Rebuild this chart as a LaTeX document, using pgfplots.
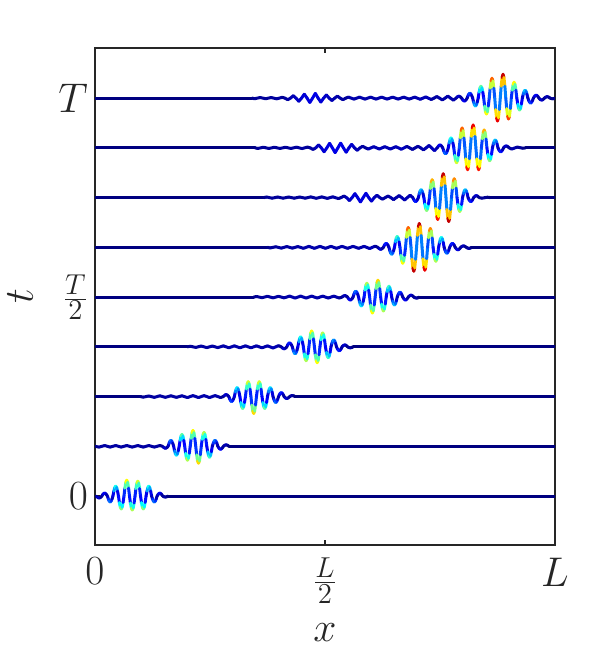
\documentclass[border=0pt]{standalone}
\usepackage{pgfplots}
\pgfplotsset{compat=1.18}

\begin{document}
\begin{tikzpicture}
\path[use as bounding box] (-47.5pt,-55.5pt) rectangle (259pt,272.5pt);
\begin{axis}[
    at={(0,0)}, anchor=south west,
    scale only axis,
    width=230pt, height=248.5pt,
    xmin=0, xmax=1, ymin=-0.123, ymax=1.126,
    xtick={0,0.5,1},
    xticklabels={$0$,{\fontsize{19}{22}\selectfont$\frac{L}{2}$},$L$},
    ytick={0,0.5,1},
    yticklabels={$0$,{\fontsize{19}{22}\selectfont$\frac{T}{2}$},$T$},
    tick align=inside,
    major tick length=2.5pt,
    axis line style={black!85, line width=0.6pt},
    every tick/.style={black!85, line width=0.6pt},
    tick label style={font=\fontsize{20}{24}\selectfont, text=black!85},
    xticklabel style={yshift=-3pt},
    xlabel={$x$}, ylabel={$t$},
    label style={font=\fontsize{20}{24}\selectfont, text=black!85},
    xlabel style={at={(axis description cs:0.5,-0.195)}, anchor=base},
    ylabel style={at={(axis description cs:-0.135,0.5)}, anchor=base},
    colormap/jet,
    point meta min=0, point meta max=0.06,
    wave/.style={mesh, line width=1.5pt, line cap=round, no markers, point meta={abs(\thisrow{u})}},
]

% t = 0
\addplot[wave] table[row sep=\\, x=x, y expr=\thisrow{u}+0] {
x u\\
0 0\\
0.003 0\\ 0.005 -0.0025\\ 0.007 -0.0043\\ 0.009 -0.005\\ 0.011 -0.0043\\ 0.013 -0.0025\\
0.015 0\\ 0.017 0.0038\\ 0.019 0.0065\\ 0.021 0.0075\\ 0.023 0.0065\\ 0.025 0.0038\\
0.027 0\\ 0.029 -0.0075\\ 0.031 -0.013\\ 0.033 -0.015\\ 0.035 -0.013\\ 0.037 -0.0075\\
0.039 0\\ 0.041 0.0125\\ 0.043 0.0217\\ 0.045 0.025\\ 0.047 0.0217\\ 0.049 0.0125\\
0.051 0\\ 0.053 -0.0163\\ 0.055 -0.0281\\ 0.057 -0.0325\\ 0.059 -0.0281\\ 0.061 -0.0163\\
0.063 0\\ 0.065 0.02\\ 0.067 0.0346\\ 0.069 0.04\\ 0.071 0.0346\\ 0.073 0.02\\
0.075 0\\ 0.077 -0.0175\\ 0.079 -0.0303\\ 0.081 -0.035\\ 0.083 -0.0303\\ 0.085 -0.0175\\
0.087 0\\ 0.089 0.0188\\ 0.091 0.0325\\ 0.093 0.0375\\ 0.095 0.0325\\ 0.097 0.0188\\
0.099 0\\ 0.101 -0.0163\\ 0.103 -0.0281\\ 0.105 -0.0325\\ 0.107 -0.0281\\ 0.109 -0.0163\\
0.111 0\\ 0.113 0.0125\\ 0.115 0.0217\\ 0.117 0.025\\ 0.119 0.0217\\ 0.121 0.0125\\
0.123 0\\ 0.125 -0.0075\\ 0.127 -0.013\\ 0.129 -0.015\\ 0.131 -0.013\\ 0.133 -0.0075\\
0.135 0\\ 0.137 0.0038\\ 0.139 0.0065\\ 0.141 0.0075\\ 0.143 0.0065\\ 0.145 0.0038\\
0.147 0\\ 0.149 -0.0013\\ 0.151 -0.0022\\ 0.153 -0.0025\\ 0.155 -0.0022\\ 0.157 -0.0013\\
0.159 0\\ 1 0\\
};

% t = T/8
\addplot[wave] table[row sep=\\, x=x, y expr=\thisrow{u}+0.125] {
x u\\
0 0\\
0.009 -0.002\\ 0.021 0.002\\ 0.033 -0.002\\ 0.045 0.002\\ 0.057 -0.002\\ 0.069 0.002\\
0.081 -0.002\\ 0.093 0.002\\ 0.105 -0.002\\ 0.117 0.002\\ 0.129 -0.002\\ 0.141 0.002\\
0.147 0\\ 0.149 -0.0025\\ 0.151 -0.0043\\ 0.153 -0.005\\ 0.155 -0.0043\\ 0.157 -0.0025\\
0.159 0\\ 0.161 0.0075\\ 0.163 0.013\\ 0.165 0.015\\ 0.167 0.013\\ 0.169 0.0075\\
0.171 0\\ 0.173 -0.0113\\ 0.175 -0.0195\\ 0.177 -0.0225\\ 0.179 -0.0195\\ 0.181 -0.0113\\
0.183 0\\ 0.185 0.015\\ 0.187 0.026\\ 0.189 0.03\\ 0.191 0.026\\ 0.193 0.015\\
0.195 0\\ 0.197 -0.0175\\ 0.199 -0.0303\\ 0.201 -0.035\\ 0.203 -0.0303\\ 0.205 -0.0175\\
0.207 0\\ 0.209 0.02\\ 0.211 0.0346\\ 0.213 0.04\\ 0.215 0.0346\\ 0.217 0.02\\
0.219 0\\ 0.221 -0.0213\\ 0.223 -0.0368\\ 0.225 -0.0425\\ 0.227 -0.0368\\ 0.229 -0.0213\\
0.231 0\\ 0.233 0.0175\\ 0.235 0.0303\\ 0.237 0.035\\ 0.239 0.0303\\ 0.241 0.0175\\
0.243 0\\ 0.245 -0.0138\\ 0.247 -0.0238\\ 0.249 -0.0275\\ 0.251 -0.0238\\ 0.253 -0.0138\\
0.255 0\\ 0.257 0.0075\\ 0.259 0.013\\ 0.261 0.015\\ 0.263 0.013\\ 0.265 0.0075\\
0.267 0\\ 0.269 -0.0038\\ 0.271 -0.0065\\ 0.273 -0.0075\\ 0.275 -0.0065\\ 0.277 -0.0038\\
0.279 0\\ 0.281 0.0019\\ 0.283 0.0033\\ 0.285 0.0038\\ 0.287 0.0033\\ 0.289 0.0019\\
0.291 0\\ 1 0\\
};

% t = 2T/8
\addplot[wave] table[row sep=\\, x=x, y expr=\thisrow{u}+0.25] {
x u\\
0 0\\ 0.099 0\\
0.105 -0.0015\\ 0.117 0.0015\\ 0.129 -0.002\\ 0.141 0.002\\ 0.153 -0.002\\ 0.165 0.002\\
0.177 -0.002\\ 0.189 0.002\\ 0.201 -0.0025\\ 0.213 0.0025\\ 0.225 -0.0025\\ 0.237 0.0025\\
0.249 -0.0025\\ 0.261 0.0025\\ 0.273 -0.0025\\
0.279 0\\ 0.281 0.0025\\ 0.283 0.0043\\ 0.285 0.005\\ 0.287 0.0043\\ 0.289 0.0025\\
0.291 0\\ 0.293 -0.0063\\ 0.295 -0.0108\\ 0.297 -0.0125\\ 0.299 -0.0108\\ 0.301 -0.0063\\
0.303 0\\ 0.305 0.0113\\ 0.307 0.0195\\ 0.309 0.0225\\ 0.311 0.0195\\ 0.313 0.0113\\
0.315 0\\ 0.317 -0.015\\ 0.319 -0.026\\ 0.321 -0.03\\ 0.323 -0.026\\ 0.325 -0.015\\
0.327 0\\ 0.329 0.0188\\ 0.331 0.0325\\ 0.333 0.0375\\ 0.335 0.0325\\ 0.337 0.0188\\
0.339 0\\ 0.341 -0.0213\\ 0.343 -0.0368\\ 0.345 -0.0425\\ 0.347 -0.0368\\ 0.349 -0.0213\\
0.351 0\\ 0.353 0.0188\\ 0.355 0.0325\\ 0.357 0.0375\\ 0.359 0.0325\\ 0.361 0.0188\\
0.363 0\\ 0.365 -0.015\\ 0.367 -0.026\\ 0.369 -0.03\\ 0.371 -0.026\\ 0.373 -0.015\\
0.375 0\\ 0.377 0.0113\\ 0.379 0.0195\\ 0.381 0.0225\\ 0.383 0.0195\\ 0.385 0.0113\\
0.387 0\\ 0.389 -0.0075\\ 0.391 -0.013\\ 0.393 -0.015\\ 0.395 -0.013\\ 0.397 -0.0075\\
0.399 0\\ 0.401 0.005\\ 0.403 0.0087\\ 0.405 0.01\\ 0.407 0.0087\\ 0.409 0.005\\
0.411 0\\ 0.413 -0.0025\\ 0.415 -0.0043\\ 0.417 -0.005\\ 0.419 -0.0043\\ 0.421 -0.0025\\
0.423 0\\ 0.425 0.0013\\ 0.427 0.0022\\ 0.429 0.0025\\ 0.431 0.0022\\ 0.433 0.0013\\
0.435 0\\ 1 0\\
};

% t = 3T/8
\addplot[wave] table[row sep=\\, x=x, y expr=\thisrow{u}+0.375] {
x u\\
0 0\\ 0.201 0\\
0.207 0.0015\\ 0.219 -0.0015\\ 0.231 0.002\\ 0.243 -0.002\\ 0.255 0.002\\ 0.267 -0.002\\
0.279 0.0025\\ 0.291 -0.0025\\ 0.303 0.0025\\ 0.315 -0.0025\\ 0.327 0.0025\\ 0.339 -0.0025\\
0.351 0.0025\\ 0.363 -0.0025\\ 0.375 0.0025\\ 0.387 -0.003\\ 0.399 0.003\\
0.405 0\\ 0.407 -0.0025\\ 0.409 -0.0043\\ 0.411 -0.005\\ 0.413 -0.0043\\ 0.415 -0.0025\\
0.417 0\\ 0.419 0.005\\ 0.421 0.0087\\ 0.423 0.01\\ 0.425 0.0087\\ 0.427 0.005\\
0.429 0\\ 0.431 -0.0088\\ 0.433 -0.0152\\ 0.435 -0.0175\\ 0.437 -0.0152\\ 0.439 -0.0088\\
0.441 0\\ 0.443 0.0125\\ 0.445 0.0217\\ 0.447 0.025\\ 0.449 0.0217\\ 0.451 0.0125\\
0.453 0\\ 0.455 -0.0175\\ 0.457 -0.0303\\ 0.459 -0.035\\ 0.461 -0.0303\\ 0.463 -0.0175\\
0.465 0\\ 0.467 0.02\\ 0.469 0.0346\\ 0.471 0.04\\ 0.473 0.0346\\ 0.475 0.02\\
0.477 0\\ 0.479 -0.02\\ 0.481 -0.0346\\ 0.483 -0.04\\ 0.485 -0.0346\\ 0.487 -0.02\\
0.489 0\\ 0.491 0.0175\\ 0.493 0.0303\\ 0.495 0.035\\ 0.497 0.0303\\ 0.499 0.0175\\
0.501 0\\ 0.503 -0.0138\\ 0.505 -0.0238\\ 0.507 -0.0275\\ 0.509 -0.0238\\ 0.511 -0.0138\\
0.513 0\\ 0.515 0.0088\\ 0.517 0.0152\\ 0.519 0.0175\\ 0.521 0.0152\\ 0.523 0.0088\\
0.525 0\\ 0.527 -0.005\\ 0.529 -0.0087\\ 0.531 -0.01\\ 0.533 -0.0087\\ 0.535 -0.005\\
0.537 0\\ 0.539 0.0025\\ 0.541 0.0043\\ 0.543 0.005\\ 0.545 0.0043\\ 0.547 0.0025\\
0.549 0\\ 0.551 -0.0013\\ 0.553 -0.0022\\ 0.555 -0.0025\\ 0.557 -0.0022\\ 0.559 -0.0013\\
0.561 0\\ 1 0\\
};

% t = T/2
\addplot[wave] table[row sep=\\, x=x, y expr=\thisrow{u}+0.5] {
x u\\
0 0\\ 0.345 0\\
0.351 0.0015\\ 0.363 -0.0015\\ 0.375 0.002\\ 0.387 -0.002\\ 0.399 0.002\\ 0.411 -0.002\\
0.423 0.0025\\ 0.435 -0.0025\\ 0.447 0.0025\\ 0.459 -0.0025\\ 0.471 0.0025\\ 0.483 -0.0025\\
0.495 0.0025\\ 0.507 -0.0025\\ 0.519 0.0025\\ 0.531 -0.0025\\
0.537 0\\ 0.539 0.0019\\ 0.541 0.0033\\ 0.543 0.0038\\ 0.545 0.0033\\ 0.547 0.0019\\
0.549 0\\ 0.551 -0.0038\\ 0.553 -0.0065\\ 0.555 -0.0075\\ 0.557 -0.0065\\ 0.559 -0.0038\\
0.561 0\\ 0.563 0.0075\\ 0.565 0.013\\ 0.567 0.015\\ 0.569 0.013\\ 0.571 0.0075\\
0.573 0\\ 0.575 -0.0113\\ 0.577 -0.0195\\ 0.579 -0.0225\\ 0.581 -0.0195\\ 0.583 -0.0113\\
0.585 0\\ 0.587 0.0175\\ 0.589 0.0303\\ 0.591 0.035\\ 0.593 0.0303\\ 0.595 0.0175\\
0.597 0\\ 0.599 -0.02\\ 0.601 -0.0346\\ 0.603 -0.04\\ 0.605 -0.0346\\ 0.607 -0.02\\
0.609 0\\ 0.611 0.0213\\ 0.613 0.0368\\ 0.615 0.0425\\ 0.617 0.0368\\ 0.619 0.0213\\
0.621 0\\ 0.623 -0.0175\\ 0.625 -0.0303\\ 0.627 -0.035\\ 0.629 -0.0303\\ 0.631 -0.0175\\
0.633 0\\ 0.635 0.0138\\ 0.637 0.0238\\ 0.639 0.0275\\ 0.641 0.0238\\ 0.643 0.0138\\
0.645 0\\ 0.647 -0.01\\ 0.649 -0.0173\\ 0.651 -0.02\\ 0.653 -0.0173\\ 0.655 -0.01\\
0.657 0\\ 0.659 0.0063\\ 0.661 0.0108\\ 0.663 0.0125\\ 0.665 0.0108\\ 0.667 0.0063\\
0.669 0\\ 0.671 -0.0038\\ 0.673 -0.0065\\ 0.675 -0.0075\\ 0.677 -0.0065\\ 0.679 -0.0038\\
0.681 0\\ 0.683 0.0025\\ 0.685 0.0043\\ 0.687 0.005\\ 0.689 0.0043\\ 0.691 0.0025\\
0.693 0\\ 0.695 -0.0013\\ 0.697 -0.0022\\ 0.699 -0.0025\\ 0.701 -0.0022\\ 0.703 -0.0013\\
0.705 0\\ 1 0\\
};

% t = 5T/8
\addplot[wave] table[row sep=\\, x=x, y expr=\thisrow{u}+0.625] {
x u\\
0 0\\ 0.375 0\\
0.381 -0.0015\\ 0.393 0.0015\\ 0.405 -0.002\\ 0.417 0.002\\ 0.429 -0.002\\ 0.441 0.002\\
0.453 -0.0025\\ 0.465 0.0025\\ 0.477 -0.0025\\ 0.489 0.0025\\ 0.501 -0.0025\\ 0.513 0.0025\\
0.525 -0.0025\\ 0.537 0.0025\\ 0.549 -0.0025\\ 0.561 0.0025\\ 0.573 -0.0025\\ 0.585 0.0025\\
0.597 -0.003\\ 0.609 0.003\\
0.615 0\\ 0.617 -0.0025\\ 0.619 -0.0043\\ 0.621 -0.005\\ 0.623 -0.0043\\ 0.625 -0.0025\\
0.627 0\\ 0.629 0.005\\ 0.631 0.0087\\ 0.633 0.01\\ 0.635 0.0087\\ 0.637 0.005\\
0.639 0\\ 0.641 -0.0088\\ 0.643 -0.0152\\ 0.645 -0.0175\\ 0.647 -0.0152\\ 0.649 -0.0088\\
0.651 0\\ 0.653 0.0138\\ 0.655 0.0238\\ 0.657 0.0275\\ 0.659 0.0238\\ 0.661 0.0138\\
0.663 0\\ 0.665 -0.02\\ 0.667 -0.0346\\ 0.669 -0.04\\ 0.671 -0.0346\\ 0.673 -0.02\\
0.675 0\\ 0.677 0.025\\ 0.679 0.0433\\ 0.681 0.05\\ 0.683 0.0433\\ 0.685 0.025\\
0.687 0\\ 0.689 -0.03\\ 0.691 -0.052\\ 0.693 -0.06\\ 0.695 -0.052\\ 0.697 -0.03\\
0.699 0\\ 0.701 0.03\\ 0.703 0.052\\ 0.705 0.06\\ 0.707 0.052\\ 0.709 0.03\\
0.711 0\\ 0.713 -0.0288\\ 0.715 -0.0498\\ 0.717 -0.0575\\ 0.719 -0.0498\\ 0.721 -0.0288\\
0.723 0\\ 0.725 0.0238\\ 0.727 0.0411\\ 0.729 0.0475\\ 0.731 0.0411\\ 0.733 0.0238\\
0.735 0\\ 0.737 -0.0175\\ 0.739 -0.0303\\ 0.741 -0.035\\ 0.743 -0.0303\\ 0.745 -0.0175\\
0.747 0\\ 0.749 0.0125\\ 0.751 0.0217\\ 0.753 0.025\\ 0.755 0.0217\\ 0.757 0.0125\\
0.759 0\\ 0.761 -0.0075\\ 0.763 -0.013\\ 0.765 -0.015\\ 0.767 -0.013\\ 0.769 -0.0075\\
0.771 0\\ 0.773 0.005\\ 0.775 0.0087\\ 0.777 0.01\\ 0.779 0.0087\\ 0.781 0.005\\
0.783 0\\ 0.785 -0.0031\\ 0.787 -0.0054\\ 0.789 -0.0063\\ 0.791 -0.0054\\ 0.793 -0.0031\\
0.795 0\\ 0.797 0.0019\\ 0.799 0.0033\\ 0.801 0.0038\\ 0.803 0.0033\\ 0.805 0.0019\\
0.807 0\\ 0.809 -0.0013\\ 0.811 -0.0022\\ 0.813 -0.0025\\ 0.815 -0.0022\\ 0.817 -0.0013\\
0.819 0\\ 1 0\\
};

% t = 6T/8
\addplot[wave] table[row sep=\\, x=x, y expr=\thisrow{u}+0.75] {
x u\\
0 0\\ 0.367 0\\
0.373 0.0015\\ 0.385 -0.0015\\ 0.397 0.0015\\ 0.409 -0.0015\\ 0.421 0.0015\\ 0.433 -0.0015\\
0.445 0.0015\\ 0.457 -0.0015\\ 0.469 0.0018\\ 0.481 -0.0018\\ 0.493 0.0018\\ 0.505 -0.002\\
0.517 0.002\\ 0.529 -0.0025\\ 0.535 0\\
0.541 0.004\\ 0.547 0\\ 0.553 -0.0075\\ 0.559 0\\ 0.565 0.01\\ 0.571 0\\ 0.577 -0.011\\ 0.583 0\\
0.589 0.011\\ 0.595 0\\ 0.601 -0.009\\ 0.607 0\\ 0.613 0.006\\ 0.619 0\\
0.625 -0.004\\ 0.631 0\\ 0.637 0.004\\ 0.643 0\\ 0.649 -0.005\\ 0.655 0\\ 0.661 0.005\\ 0.667 0\\
0.673 -0.006\\ 0.679 0\\ 0.685 0.006\\
0.691 0\\ 0.693 -0.005\\ 0.695 -0.0087\\ 0.697 -0.01\\ 0.699 -0.0087\\ 0.701 -0.005\\
0.703 0\\ 0.705 0.01\\ 0.707 0.0173\\ 0.709 0.02\\ 0.711 0.0173\\ 0.713 0.01\\
0.715 0\\ 0.717 -0.0163\\ 0.719 -0.0281\\ 0.721 -0.0325\\ 0.723 -0.0281\\ 0.725 -0.0163\\
0.727 0\\ 0.729 0.0225\\ 0.731 0.039\\ 0.733 0.045\\ 0.735 0.039\\ 0.737 0.0225\\
0.739 0\\ 0.741 -0.0275\\ 0.743 -0.0476\\ 0.745 -0.055\\ 0.747 -0.0476\\ 0.749 -0.0275\\
0.751 0\\ 0.753 0.03\\ 0.755 0.052\\ 0.757 0.06\\ 0.759 0.052\\ 0.761 0.03\\
0.763 0\\ 0.765 -0.03\\ 0.767 -0.052\\ 0.769 -0.06\\ 0.771 -0.052\\ 0.773 -0.03\\
0.775 0\\ 0.777 0.0238\\ 0.779 0.0411\\ 0.781 0.0475\\ 0.783 0.0411\\ 0.785 0.0238\\
0.787 0\\ 0.789 -0.0175\\ 0.791 -0.0303\\ 0.793 -0.035\\ 0.795 -0.0303\\ 0.797 -0.0175\\
0.799 0\\ 0.801 0.01\\ 0.803 0.0173\\ 0.805 0.02\\ 0.807 0.0173\\ 0.809 0.01\\
0.811 0\\ 0.813 -0.005\\ 0.815 -0.0087\\ 0.817 -0.01\\ 0.819 -0.0087\\ 0.821 -0.005\\
0.823 0\\ 0.825 0.0025\\ 0.827 0.0043\\ 0.829 0.005\\ 0.831 0.0043\\ 0.833 0.0025\\
0.835 0\\ 0.841 -0.0015\\ 0.853 0.001\\ 0.859 0\\ 1 0\\
};

% t = 7T/8
\addplot[wave] table[row sep=\\, x=x, y expr=\thisrow{u}+0.875] {
x u\\
0 0\\ 0.348 0\\
0.354 -0.0015\\ 0.366 0.0015\\ 0.378 -0.0015\\ 0.390 0.0015\\ 0.402 -0.0015\\ 0.414 0.0015\\
0.426 -0.0015\\ 0.438 0.0018\\ 0.450 -0.0018\\ 0.462 0.002\\ 0.468 0\\
0.474 -0.004\\ 0.480 0\\ 0.486 0.0075\\ 0.492 0\\ 0.498 -0.01\\ 0.504 0\\ 0.510 0.0115\\ 0.516 0\\
0.522 -0.012\\ 0.528 0\\ 0.534 0.012\\ 0.540 0\\ 0.546 -0.011\\ 0.552 0\\ 0.558 0.009\\ 0.564 0\\
0.570 -0.006\\ 0.576 0\\ 0.582 0.004\\ 0.588 0\\
0.594 -0.003\\ 0.606 0.003\\ 0.618 -0.003\\ 0.630 0.003\\ 0.642 -0.003\\
0.654 0.003\\ 0.666 -0.0035\\ 0.678 0.0035\\ 0.684 0\\ 0.690 -0.004\\ 0.696 0\\ 0.702 0.004\\ 0.708 0\\
0.714 -0.005\\ 0.720 0\\ 0.726 0.006\\ 0.732 0\\ 0.738 -0.007\\
0.744 0\\ 0.746 0.0038\\ 0.748 0.0065\\ 0.750 0.0075\\ 0.752 0.0065\\ 0.754 0.0038\\
0.756 0\\ 0.758 -0.0075\\ 0.760 -0.013\\ 0.762 -0.015\\ 0.764 -0.013\\ 0.766 -0.0075\\
0.768 0\\ 0.770 0.0125\\ 0.772 0.0217\\ 0.774 0.025\\ 0.776 0.0217\\ 0.778 0.0125\\
0.780 0\\ 0.782 -0.0188\\ 0.784 -0.0325\\ 0.786 -0.0375\\ 0.788 -0.0325\\ 0.790 -0.0188\\
0.792 0\\ 0.794 0.025\\ 0.796 0.0433\\ 0.798 0.05\\ 0.800 0.0433\\ 0.802 0.025\\
0.804 0\\ 0.806 -0.0275\\ 0.808 -0.0476\\ 0.810 -0.055\\ 0.812 -0.0476\\ 0.814 -0.0275\\
0.816 0\\ 0.818 0.0288\\ 0.820 0.0498\\ 0.822 0.0575\\ 0.824 0.0498\\ 0.826 0.0288\\
0.828 0\\ 0.830 -0.0275\\ 0.832 -0.0476\\ 0.834 -0.055\\ 0.836 -0.0476\\ 0.838 -0.0275\\
0.840 0\\ 0.842 0.0225\\ 0.844 0.039\\ 0.846 0.045\\ 0.848 0.039\\ 0.850 0.0225\\
0.852 0\\ 0.854 -0.0163\\ 0.856 -0.0281\\ 0.858 -0.0325\\ 0.860 -0.0281\\ 0.862 -0.0163\\
0.864 0\\ 0.866 0.01\\ 0.868 0.0173\\ 0.870 0.02\\ 0.872 0.0173\\ 0.874 0.01\\
0.876 0\\ 0.878 -0.005\\ 0.880 -0.0087\\ 0.882 -0.01\\ 0.884 -0.0087\\ 0.886 -0.005\\
0.888 0\\ 0.890 0.0025\\ 0.892 0.0043\\ 0.894 0.005\\ 0.896 0.0043\\ 0.898 0.0025\\
0.900 0\\ 0.906 -0.003\\ 0.918 0.002\\ 0.930 -0.001\\ 0.936 0\\ 1 0\\
};

% t = T
\addplot[wave] table[row sep=\\, x=x, y expr=\thisrow{u}+1] {
x u\\
0 0\\ 0.341 0\\
0.347 -0.0015\\ 0.359 0.0015\\ 0.371 -0.0015\\ 0.383 0.0015\\ 0.395 -0.0018\\ 0.407 0.002\\ 0.413 0\\
0.419 -0.004\\ 0.425 0\\ 0.431 0.006\\ 0.437 0\\ 0.443 -0.008\\ 0.449 0\\ 0.455 0.01\\ 0.461 0\\
0.467 -0.011\\ 0.473 0\\ 0.479 0.012\\ 0.485 0\\ 0.491 -0.01\\ 0.497 0\\ 0.503 0.008\\ 0.509 0\\
0.515 -0.006\\ 0.521 0\\ 0.527 0.005\\ 0.533 0\\ 0.539 -0.004\\ 0.545 0\\
0.551 0.0025\\ 0.563 -0.0025\\ 0.575 0.0025\\ 0.587 -0.0025\\ 0.599 0.0025\\ 0.611 -0.0025\\
0.623 0.0025\\ 0.635 -0.0025\\ 0.647 0.0025\\ 0.659 -0.0025\\ 0.671 0.0025\\ 0.683 -0.0025\\
0.695 0.0025\\ 0.707 -0.003\\ 0.719 0.003\\ 0.731 -0.0035\\ 0.737 0\\ 0.743 0.004\\ 0.749 0\\
0.755 -0.0045\\ 0.761 0\\ 0.767 0.005\\ 0.773 0\\ 0.779 -0.005\\
0.785 0\\ 0.787 0.0025\\ 0.789 0.0043\\ 0.791 0.005\\ 0.793 0.0043\\ 0.795 0.0025\\
0.797 0\\ 0.799 -0.0038\\ 0.801 -0.0065\\ 0.803 -0.0075\\ 0.805 -0.0065\\ 0.807 -0.0038\\
0.809 0\\ 0.811 0.0063\\ 0.813 0.0108\\ 0.815 0.0125\\ 0.817 0.0108\\ 0.819 0.0063\\
0.821 0\\ 0.823 -0.01\\ 0.825 -0.0173\\ 0.827 -0.02\\ 0.829 -0.0173\\ 0.831 -0.01\\
0.833 0\\ 0.835 0.015\\ 0.837 0.026\\ 0.839 0.03\\ 0.841 0.026\\ 0.843 0.015\\
0.845 0\\ 0.847 -0.02\\ 0.849 -0.0346\\ 0.851 -0.04\\ 0.853 -0.0346\\ 0.855 -0.02\\
0.857 0\\ 0.859 0.025\\ 0.861 0.0433\\ 0.863 0.05\\ 0.865 0.0433\\ 0.867 0.025\\
0.869 0\\ 0.871 -0.0288\\ 0.873 -0.0498\\ 0.875 -0.0575\\ 0.877 -0.0498\\ 0.879 -0.0288\\
0.881 0\\ 0.883 0.03\\ 0.885 0.052\\ 0.887 0.06\\ 0.889 0.052\\ 0.891 0.03\\
0.893 0\\ 0.895 -0.0263\\ 0.897 -0.0455\\ 0.899 -0.0525\\ 0.901 -0.0455\\ 0.903 -0.0263\\
0.905 0\\ 0.907 0.02\\ 0.909 0.0346\\ 0.911 0.04\\ 0.913 0.0346\\ 0.915 0.02\\
0.917 0\\ 0.919 -0.015\\ 0.921 -0.026\\ 0.923 -0.03\\ 0.925 -0.026\\ 0.927 -0.015\\
0.929 0\\ 0.931 0.01\\ 0.933 0.0173\\ 0.935 0.02\\ 0.937 0.0173\\ 0.939 0.01\\
0.941 0\\ 0.943 -0.0063\\ 0.945 -0.0108\\ 0.947 -0.0125\\ 0.949 -0.0108\\ 0.951 -0.0063\\
0.953 0\\ 0.955 0.0038\\ 0.957 0.0065\\ 0.959 0.0075\\ 0.961 0.0065\\ 0.963 0.0038\\
0.965 0\\ 0.967 -0.0025\\ 0.969 -0.0043\\ 0.971 -0.005\\ 0.973 -0.0043\\ 0.975 -0.0025\\
0.977 0\\ 0.979 0.0019\\ 0.981 0.0033\\ 0.983 0.0038\\ 0.985 0.0033\\ 0.987 0.0019\\
0.989 0\\ 0.995 -0.002\\ 1 0\\
};

\end{axis}
\end{tikzpicture}
\end{document}
